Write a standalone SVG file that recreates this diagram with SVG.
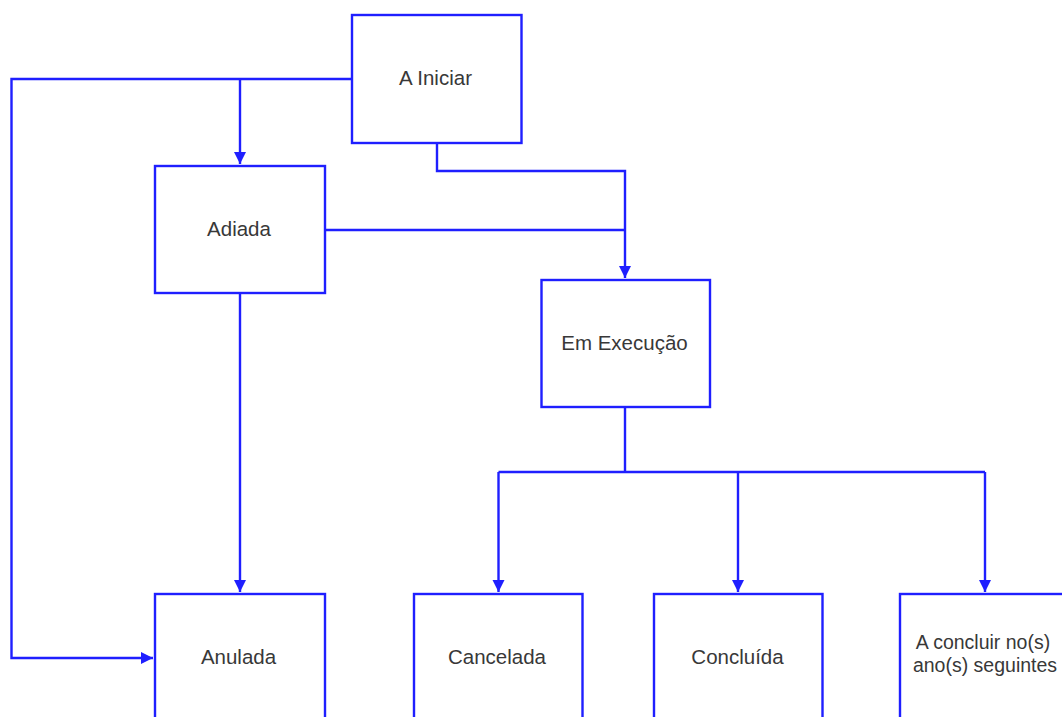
<svg xmlns="http://www.w3.org/2000/svg" width="1062" height="717" viewBox="0 0 1062 717">
<defs>
<marker id="arr" markerUnits="userSpaceOnUse" markerWidth="12" markerHeight="14" viewBox="0 0 12 14" refX="12" refY="6" orient="auto">
<path d="M0,0 L12,6 L0,12 Z" fill="#1f1fff"/>
</marker>
</defs>
<style>
.box{fill:#ffffff;stroke:#1f1fff;stroke-width:2.4}
.ln{fill:none;stroke:#1f1fff;stroke-width:2.4}
.t{font-family:"Liberation Sans",Arial,sans-serif;font-size:20.5px;fill:#383838;text-anchor:middle}
.t2{font-size:19.5px}
</style>
<rect width="1062" height="717" fill="#ffffff"/>
<g id="connectors">
<polyline class="ln" points="352,79 11.5,79 11.5,658 153,658" marker-end="url(#arr)"/>
<polyline class="ln" points="240,79 240,164" marker-end="url(#arr)"/>
<polyline class="ln" points="240,293 240,592" marker-end="url(#arr)"/>
<polyline class="ln" points="437,143 437,171 625,171 625,278" marker-end="url(#arr)"/>
<polyline class="ln" points="325,230 625,230"/>
<polyline class="ln" points="625,407 625,472"/>
<polyline class="ln" points="498.5,472 985,472"/>
<polyline class="ln" points="498.5,472 498.5,592" marker-end="url(#arr)"/>
<polyline class="ln" points="738,472 738,592" marker-end="url(#arr)"/>
<polyline class="ln" points="985,472 985,592" marker-end="url(#arr)"/>
</g>
<g id="n-iniciar">
<rect class="box" x="352" y="15" width="169.5" height="128"/>
<text class="t" x="435.5" y="85">A Iniciar</text>
</g>
<g id="n-adiada">
<rect class="box" x="155" y="166" width="170" height="127"/>
<text class="t" x="239" y="236">Adiada</text>
</g>
<g id="n-execucao">
<rect class="box" x="541.5" y="280" width="168.5" height="127"/>
<text class="t" x="624.5" y="350">Em Execução</text>
</g>
<g id="n-anulada">
<rect class="box" x="155" y="594" width="170" height="140"/>
<text class="t" x="238.5" y="664">Anulada</text>
</g>
<g id="n-cancelada">
<rect class="box" x="414" y="594" width="168.5" height="140"/>
<text class="t" x="497" y="664">Cancelada</text>
</g>
<g id="n-concluida">
<rect class="box" x="654" y="594" width="168.5" height="140"/>
<text class="t" x="737.5" y="664">Concluída</text>
</g>
<g id="n-concluir">
<rect class="box" x="900" y="594" width="170" height="140"/>
<text class="t t2" x="983" y="649">A concluir no(s)</text>
<text class="t t2" x="985" y="672">ano(s) seguintes</text>
</g>
</svg>
